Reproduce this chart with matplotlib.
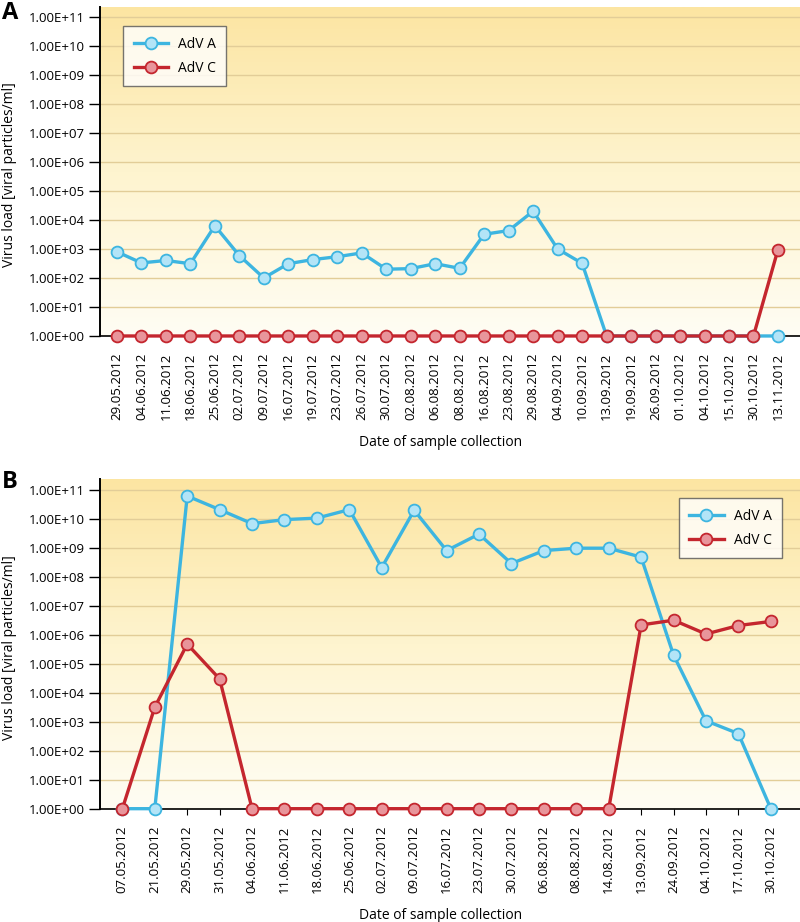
import numpy as np
import matplotlib
matplotlib.use("Agg")
import matplotlib.pyplot as plt
from matplotlib.colors import LinearSegmentedColormap
from matplotlib.ticker import FixedLocator, FixedFormatter

plt.rcParams['font.family'] = ['Open Sans', 'DejaVu Sans']

# panel A
dates_a = ["29.05.2012", "04.06.2012", "11.06.2012", "18.06.2012", "25.06.2012",
           "02.07.2012", "09.07.2012", "16.07.2012", "19.07.2012", "23.07.2012",
           "26.07.2012", "30.07.2012", "02.08.2012", "06.08.2012", "08.08.2012",
           "16.08.2012", "23.08.2012", "29.08.2012", "04.09.2012", "10.09.2012",
           "13.09.2012", "19.09.2012", "26.09.2012", "01.10.2012", "04.10.2012",
           "15.10.2012", "30.10.2012", "13.11.2012"]
adv_a_a = [800, 330, 400, 310, 6300, 590, 100, 310, 430, 540,
           730, 200, 210, 310, 215, 3200, 4300, 20000, 1000, 320,
           1, 1, 1, 1, 1, 1, 1, 1]
adv_c_a = [1] * 27 + [950]

# panel B
dates_b = ["07.05.2012", "21.05.2012", "29.05.2012", "31.05.2012", "04.06.2012",
           "11.06.2012", "18.06.2012", "25.06.2012", "02.07.2012", "09.07.2012",
           "16.07.2012", "23.07.2012", "30.07.2012", "06.08.2012", "08.08.2012",
           "14.08.2012", "13.09.2012", "24.09.2012", "04.10.2012", "17.10.2012",
           "30.10.2012"]
adv_a_b = [1, 1, 6.2e10, 2.1e10, 6.9e9, 9.5e9, 1.07e10, 2.1e10, 2.1e8, 2e10,
           8.1e8, 3e9, 2.9e8, 8.1e8, 9.8e8, 9.8e8, 4.8e8, 2e5, 1.08e3, 390, 1]
adv_c_b = [1, 3.2e3, 4.8e5, 3e4, 1, 1, 1, 1, 1, 1,
           1, 1, 1, 1, 1, 1, 2.2e6, 3.2e6, 1.07e6, 2.1e6, 2.9e6]

ytick_vals = [10.0 ** k for k in range(12)]
ytick_labels = ["1.00E+%02d" % k for k in range(12)]

blue_line, blue_face = "#3db5e0", "#b3e4f7"
red_line, red_face = "#c4262e", "#e8959b"

bg_cmap = LinearSegmentedColormap.from_list("bg", ["#fffdf4", "#fef4cf", "#fce5a2"])


def draw_panel(ax, dates, a_vals, c_vals, top_exp, legend_loc, anchor):
    x = np.arange(len(dates))
    grad = np.linspace(0, 1, 256).reshape(-1, 1)
    ax.imshow(grad, extent=[0, 1, 0, 1], transform=ax.transAxes, origin="lower",
              cmap=bg_cmap, aspect="auto", zorder=0)
    ax.set_yscale("log")
    ax.set_ylim(1, 10 ** top_exp)
    ax.set_xlim(-0.69, len(dates) - 1 + 0.9)
    for v in ytick_vals:
        ax.axhline(v, color="#e2cd98", lw=1.0, zorder=1)

    ax.plot(x, a_vals, color=blue_line, lw=2.4, marker="o", ms=8.5,
            mfc=blue_face, mec=blue_line, mew=1.3, label="AdV A",
            clip_on=False, zorder=4)
    ax.plot(x, c_vals, color=red_line, lw=2.4, marker="o", ms=8.5,
            mfc=red_face, mec=red_line, mew=1.3, label="AdV C",
            clip_on=False, zorder=5)

    ax.yaxis.set_major_locator(FixedLocator(ytick_vals))
    ax.yaxis.set_major_formatter(FixedFormatter(ytick_labels))
    ax.yaxis.set_minor_locator(FixedLocator([]))
    ax.set_xticks(x)
    ax.set_xticklabels(dates, rotation=90, fontsize=9.5)
    ax.tick_params(axis="y", labelsize=9.5, length=8, width=1, direction="out", pad=3)
    ax.tick_params(axis="x", length=4, width=0.8, direction="out", pad=8)
    for s in ("top", "right"):
        ax.spines[s].set_visible(False)
    ax.spines["left"].set_linewidth(1.4)
    ax.spines["bottom"].set_linewidth(1.2)
    ax.spines["left"].set_zorder(3)
    ax.spines["bottom"].set_zorder(3)
    ax.set_ylabel("Virus load [viral particles/ml]", fontsize=10)
    ax.yaxis.set_label_coords(-0.118, 0.49)
    ax.set_xlabel("Date of sample collection", fontsize=10)
    ax.xaxis.set_label_coords(0.486, -0.3)
    leg = ax.legend(loc=legend_loc, bbox_to_anchor=anchor, fontsize=10,
                    frameon=True, fancybox=False, borderaxespad=0,
                    handlelength=2.5, borderpad=0.75, labelspacing=0.65,
                    handletextpad=0.7)
    leg.get_frame().set_edgecolor("#555555")
    leg.get_frame().set_linewidth(1.0)
    leg.set_zorder(6)
    return leg


fig = plt.figure(figsize=(8, 9.22), dpi=100)
ax_a = fig.add_axes([0.125, 0.6356, 0.875, 0.3568])
ax_b = fig.add_axes([0.125, 0.1229, 0.875, 0.3576])

draw_panel(ax_a, dates_a, adv_a_a, adv_c_a, 11.34, "upper left", (0.033, 0.942))
draw_panel(ax_b, dates_b, adv_a_b, adv_c_b, 11.38, "upper right", (0.974, 0.942))

fig.text(0.002, 0.999, "A", fontsize=17, fontweight="bold", va="top", ha="left")
fig.text(0.002, 0.49, "B", fontsize=17, fontweight="bold", va="top", ha="left")

fig.savefig("out.png", dpi=100)
